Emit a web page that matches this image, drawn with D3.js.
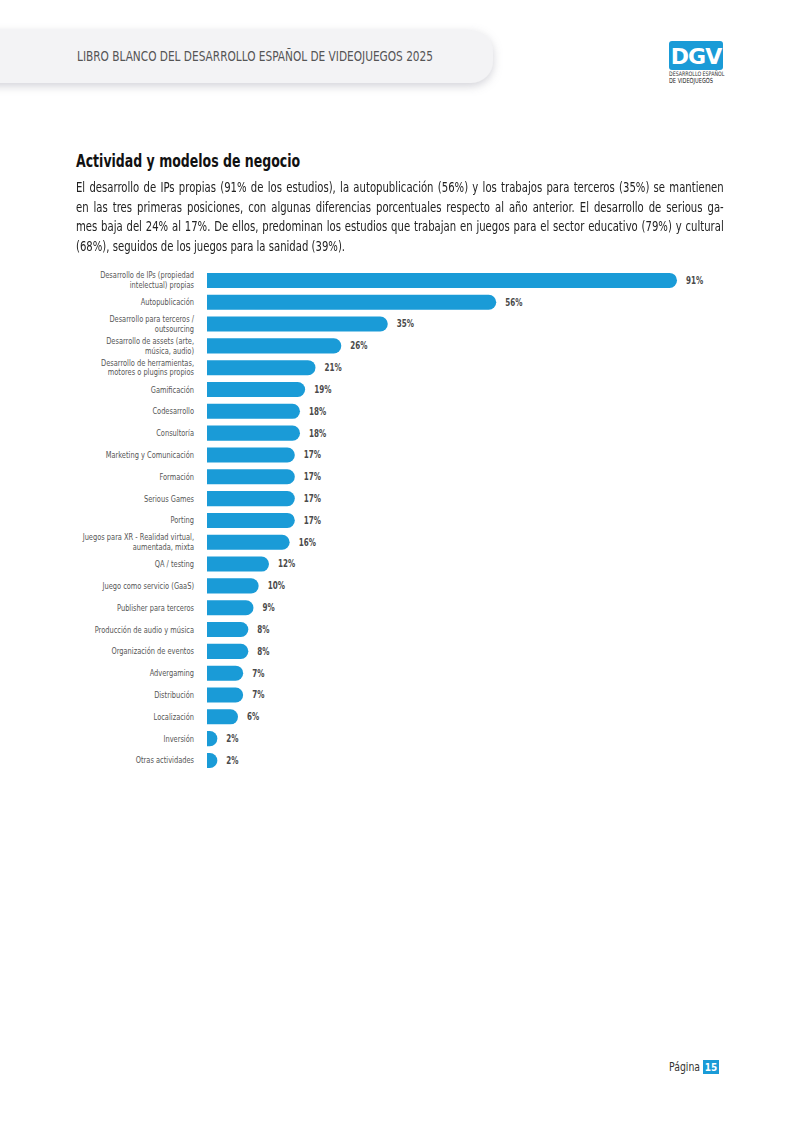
<!DOCTYPE html>
<html>
<head>
<meta charset="utf-8">
<script src="https://cdn.jsdelivr.net/npm/d3@7"></script>
<style>
  body { margin: 0; background: #fff; }
  #page { position: relative; width: 800px; height: 1131px; overflow: hidden; }
  #page svg { position: absolute; left: 0; top: 0; }
  /* the source face is a condensed one; squeeze DejaVu Condensed a bit more */
  .para { position: absolute; left: 76px; width: 762px; transform: scaleX(0.85); transform-origin: 0 0;
          font-family: "DejaVu Sans Condensed", sans-serif; font-size: 13.2px; color: #222; line-height: 19.6px; }
  .para div { white-space: nowrap; text-align: justify; text-align-last: justify; height: 19.6px; }
  .para div.last { text-align-last: left; }
</style>
</head>
<body>
<div id="page"></div>
<script>
// categories and values
var categories = [
  ["Desarrollo de IPs (propiedad", "intelectual) propias"],
  ["Autopublicación"],
  ["Desarrollo para terceros /", "outsourcing"],
  ["Desarrollo de assets (arte,", "música, audio)"],
  ["Desarrollo de herramientas,", "motores o plugins propios"],
  ["Gamificación"],
  ["Codesarrollo"],
  ["Consultoría"],
  ["Marketing y Comunicación"],
  ["Formación"],
  ["Serious Games"],
  ["Porting"],
  ["Juegos para XR - Realidad virtual,", "aumentada, mixta"],
  ["QA / testing"],
  ["Juego como servicio (GaaS)"],
  ["Publisher para terceros"],
  ["Producción de audio y música"],
  ["Organización de eventos"],
  ["Advergaming"],
  ["Distribución"],
  ["Localización"],
  ["Inversión"],
  ["Otras actividades"]
];
var values = [91, 56, 35, 26, 21, 19, 18, 18, 17, 17, 17, 17, 16, 12, 10, 9, 8, 8, 7, 7, 6, 2, 2];

var paragraphLines = [
  "El desarrollo de IPs propias (91% de los estudios), la autopublicación (56%) y los trabajos para terceros (35%) se mantienen",
  "en las tres primeras posiciones, con algunas diferencias porcentuales respecto al año anterior. El desarrollo de serious ga-",
  "mes baja del 24% al 17%. De ellos, predominan los estudios que trabajan en juegos para el sector educativo (79%) y cultural",
  "(68%), seguidos de los juegos para la sanidad (39%)."
];

var cond = "'DejaVu Sans Condensed', sans-serif";
var blue = "#1a9bd7";

var page = d3.select("#page");
var svg = page.append("svg").attr("width", 800).attr("height", 1131);

// squeezed text helper: anchor at (x,y), scaled horizontally by sx
function squeezed(parent, x, y, sx) {
  return parent.append("text")
      .attr("transform", "translate(" + x + "," + y + ") scale(" + sx + ",1)");
}

// header pill with soft shadow
var defs = svg.append("defs");
var shadow = defs.append("filter").attr("id", "shadow")
    .attr("x", "-10%").attr("y", "-50%").attr("width", "130%").attr("height", "220%");
shadow.append("feDropShadow").attr("dx", 0).attr("dy", 3).attr("stdDeviation", 5)
    .attr("flood-color", "#9a9aa8").attr("flood-opacity", 0.45);

svg.append("rect")
    .attr("x", -40).attr("y", 30).attr("width", 533).attr("height", 53).attr("rx", 22)
    .attr("fill", "#f3f3f5").attr("filter", "url(#shadow)");
squeezed(svg, 77, 61, 0.84)
    .attr("font-family", cond).attr("font-size", 14).attr("fill", "#555")
    .text("LIBRO BLANCO DEL DESARROLLO ESPAÑOL DE VIDEOJUEGOS 2025");

// logo
var logo = svg.append("g").attr("transform", "translate(669,41)");
logo.append("rect").attr("width", 54).attr("height", 29).attr("rx", 3).attr("fill", blue);
logo.append("text").attr("x", 27).attr("y", 23).attr("text-anchor", "middle")
    .attr("font-family", "'DejaVu Sans', sans-serif").attr("font-weight", "bold").attr("font-size", 22)
    .attr("fill", "#fff").attr("letter-spacing", -1).text("DGV");
squeezed(logo, 0, 35, 0.85)
    .attr("font-family", cond).attr("font-size", 6.2).attr("fill", "#333").text("DESARROLLO ESPAÑOL");
squeezed(logo, 0, 41.5, 0.8)
    .attr("font-family", cond).attr("font-size", 7).attr("fill", "#222").text("DE VIDEOJUEGOS");

// title
squeezed(svg, 76, 167, 0.82)
    .attr("font-family", cond).attr("font-weight", "bold")
    .attr("font-size", 17).attr("fill", "#111")
    .text("Actividad y modelos de negocio");

// paragraph, one div per line so the breaks match
var para = page.append("div").attr("class", "para").style("top", "178px");
para.selectAll("div").data(paragraphLines).join("div")
    .attr("class", function(d, i) { return i === paragraphLines.length - 1 ? "last" : null; })
    .text(function(d) { return d; });

// chart
var x0 = 207;
var xScale = d3.scaleLinear().domain([0, 91]).range([x0, 677]);
var yScale = d3.scaleBand().domain(d3.range(values.length))
    .range([269.5, 269.5 + values.length * 21.82]).paddingInner(0.31).paddingOuter(0.155);
var bh = yScale.bandwidth();
var r = bh / 2;

var chart = svg.append("g").attr("class", "barChart");
var rows = chart.selectAll("g.row").data(values).join("g").attr("class", "row")
    .attr("transform", function(d, i) { return "translate(0," + yScale(i) + ")"; });

// bars: square left edge, round right end
rows.append("path")
    .attr("fill", blue)
    .attr("d", function(d) {
      var w = xScale(d) - x0;
      var rr = Math.min(r, w);
      return "M" + x0 + ",0H" + (x0 + w - rr) +
        "A" + rr + "," + r + " 0 0 1 " + (x0 + w) + "," + r +
        "A" + rr + "," + r + " 0 0 1 " + (x0 + w - rr) + "," + bh +
        "H" + x0 + "Z";
    });

rows.each(function(d) {
  squeezed(d3.select(this), xScale(d) + 9, r + 3.4, 0.8)
      .attr("font-family", cond).attr("font-weight", "bold").attr("font-size", 10)
      .attr("fill", "#4a4a4a")
      .text(d + "%");
});

rows.each(function(d, i) {
  var lines = categories[i];
  var start = lines.length === 1 ? r + 3 : r - 2.2;
  var t = squeezed(d3.select(this), 194, 0, 0.86)
      .attr("text-anchor", "end")
      .attr("font-family", cond).attr("font-size", 8.6).attr("fill", "#555");
  lines.forEach(function(l, k) {
    t.append("tspan").attr("x", 0).attr("y", start + k * 10).text(l);
  });
});

// page number
squeezed(svg, 700, 1071, 0.9).attr("text-anchor", "end")
    .attr("font-family", cond).attr("font-size", 11.5).attr("fill", "#333").text("Página");
svg.append("rect").attr("x", 703).attr("y", 1060).attr("width", 16).attr("height", 14).attr("fill", blue);
squeezed(svg, 711, 1071, 0.9).attr("text-anchor", "middle")
    .attr("font-family", cond).attr("font-weight", "bold").attr("font-size", 11).attr("fill", "#fff").text("15");
</script>
</body>
</html>
